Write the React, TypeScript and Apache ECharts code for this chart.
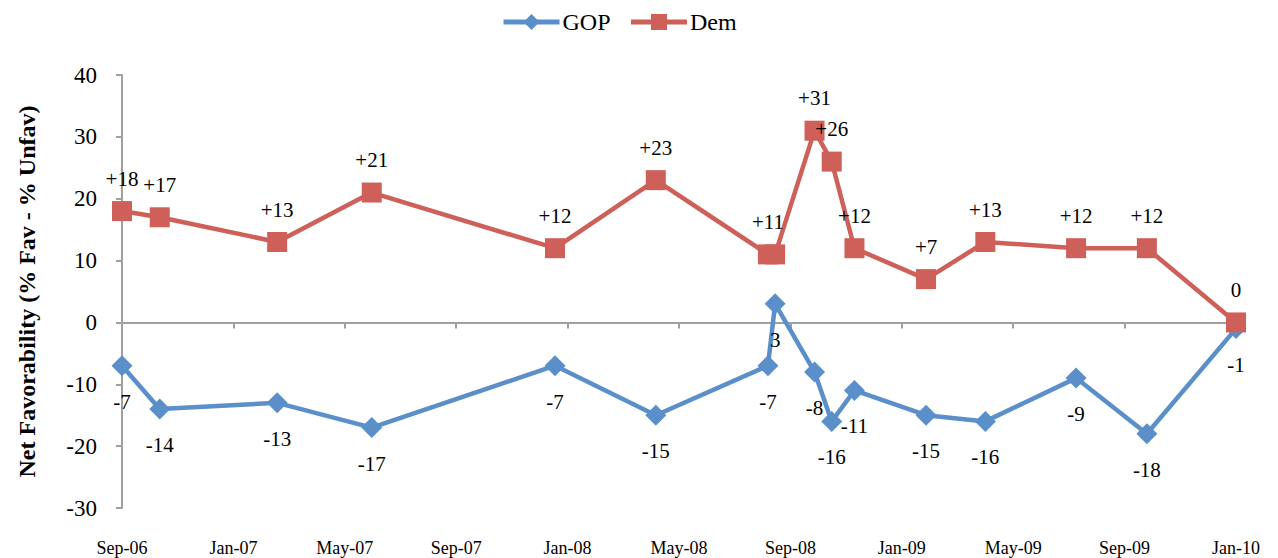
import React, { useEffect, useRef } from "react";
import * as echarts from "echarts";

const surveyDates = [
  "2006-09-01", "2006-10-12", "2007-02-17", "2007-05-31", "2007-12-18",
  "2008-04-06", "2008-08-07", "2008-08-15", "2008-09-27", "2008-10-16",
  "2008-11-10", "2009-01-28", "2009-04-01", "2009-07-09", "2009-09-25",
  "2010-01-01",
];
const gopValues = [-7, -14, -13, -17, -7, -15, -7, 3, -8, -16, -11, -15, -16, -9, -18, -1];
const demValues = [18, 17, 13, 21, 12, 23, 11, 11, 31, 26, 12, 7, 13, 12, 12, 0];
const xTickLabels = [
  "Sep-06", "Jan-07", "May-07", "Sep-07", "Jan-08", "May-08",
  "Sep-08", "Jan-09", "May-09", "Sep-09", "Jan-10",
];
const yTicks = [-30, -20, -10, 0, 10, 20, 30, 40];

const FONT = "Liberation Serif";

function toMonths(d: string): number {
  const [y, m, day] = d.split("-").map(Number);
  const dim = new Date(y, m, 0).getDate();
  return (y - 2006) * 12 + (m - 9) + (day - 1) / dim;
}

export default function App() {
  const ref = useRef<HTMLDivElement>(null);
  useEffect(() => {
    if (!ref.current) return;
    const chart = echarts.init(ref.current, undefined, { renderer: "svg" });
    const xs = surveyDates.map(toMonths);
    const blue = "#5A8FCA";
    const red = "#CE5F59";
    const axisGray = "#A0A0A0";
    chart.setOption({
      animation: false,
      backgroundColor: "#fff",
      textStyle: { fontFamily: FONT },
      legend: {
        top: 5,
        left: 496,
        itemWidth: 56,
        itemHeight: 20,
        itemGap: 18,
        lineStyle: { width: 5 },
        textStyle: { fontFamily: FONT, fontSize: 24, color: "#000", padding: [0, 0, 0, -2] },
        data: ["GOP", "Dem"],
      },
      grid: { left: 122, right: 42, top: 75, bottom: 50, containLabel: false },
      xAxis: [
        {
          type: "value",
          min: 0,
          max: 40,
          interval: 4,
          position: "bottom",
          axisLine: { show: false, onZero: false },
          axisTick: { show: false },
          splitLine: { show: false },
          axisLabel: {
            margin: 31,
            fontFamily: FONT,
            fontSize: 18,
            color: "#000",
            formatter: (v: number) => xTickLabels[Math.round(v / 4)] ?? "",
          },
        },
        {
          type: "value",
          min: 0,
          max: 40,
          interval: 4,
          position: "top",
          axisLine: { show: true, onZero: true, lineStyle: { color: axisGray, width: 2 } },
          axisTick: { show: true, inside: true, length: 6, lineStyle: { color: axisGray, width: 2 } },
          axisLabel: { show: false },
          splitLine: { show: false },
        },
      ],
      yAxis: {
        type: "value",
        min: yTicks[0],
        max: yTicks[yTicks.length - 1],
        interval: 10,
        name: "Net Favorability (% Fav - % Unfav)",
        nameLocation: "middle",
        nameRotate: 90,
        nameGap: 83,
        nameTextStyle: { fontFamily: FONT, fontSize: 24, fontWeight: "bold", color: "#000" },
        axisLine: { show: true, lineStyle: { color: axisGray, width: 2 } },
        axisTick: { show: true, length: 6, lineStyle: { color: axisGray, width: 2 } },
        splitLine: { show: false },
        axisLabel: { margin: 25, fontFamily: FONT, fontSize: 23, color: "#000" },
      },
      series: [
        {
          name: "GOP",
          type: "line",
          xAxisIndex: 0,
          data: xs.map((x, i) => [x, gopValues[i]]),
          symbol: "diamond",
          symbolSize: 21,
          color: blue,
          lineStyle: { color: blue, width: 4.5 },
          itemStyle: { color: blue },
          label: {
            show: true,
            position: "bottom",
            distance: 15,
            fontFamily: FONT,
            fontSize: 21,
            color: "#000",
            formatter: (p: any) => String(p.value[1]),
          },
          z: 2,
        },
        {
          name: "Dem",
          type: "line",
          xAxisIndex: 0,
          data: xs.map((x, i) =>
            i === 7
              ? { value: [x, demValues[i]], label: { show: false } }
              : [x, demValues[i]]
          ),
          symbol: "rect",
          symbolSize: 20,
          color: red,
          lineStyle: { color: red, width: 4.5 },
          itemStyle: { color: red },
          label: {
            show: true,
            position: "top",
            distance: 12,
            fontFamily: FONT,
            fontSize: 21,
            color: "#000",
            formatter: (p: any) => {
              const v = p.value[1];
              return v > 0 ? "+" + v : String(v);
            },
          },
          z: 3,
        },
      ],
    });
    return () => chart.dispose();
  }, []);
  return (
    <div
      ref={ref}
      style={{ position: "fixed", left: 0, top: 0, width: 1278, height: 558 }}
    />
  );
}
